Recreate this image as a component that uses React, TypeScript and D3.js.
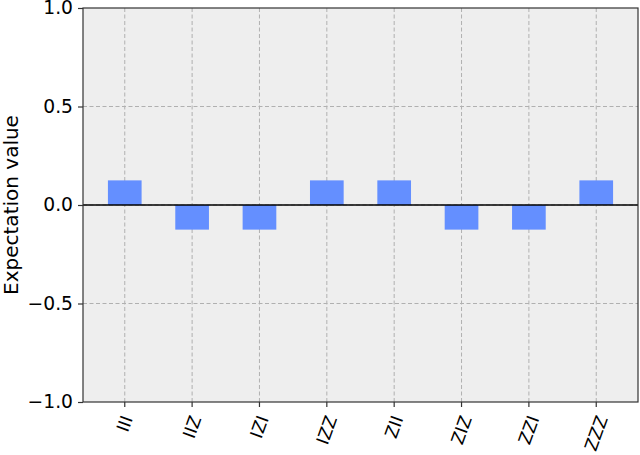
import { useEffect, useRef } from 'react';
import * as d3 from 'd3';

const labels = ['III', 'IIZ', 'IZI', 'IZZ', 'ZII', 'ZIZ', 'ZZI', 'ZZZ'];
const values = [0.125, -0.125, -0.125, 0.125, 0.125, -0.125, -0.125, 0.125];
const yTicks = [1, 0.5, 0, -0.5, -1];

const App = () => {
    const svgRef = useRef<SVGSVGElement>(null);
    const width = 640;
    const height = 455;
    const margins = { top: 8, right: 2, bottom: 53, left: 83 };
    const font = 'DejaVu Sans, sans-serif';

    useEffect(() => {
        const svg = d3.select(svgRef.current);
        svg.selectAll('*').remove();

        const x = d3.scalePoint<string>()
            .domain(labels)
            .range([margins.left, width - margins.right])
            .padding(0.62);
        const y = d3.scaleLinear()
            .domain([-1, 1])
            .range([height - margins.bottom, margins.top]);
        const barW = x.step() * 0.5;

        // plot background
        svg.append('rect')
            .attr('x', margins.left)
            .attr('y', margins.top)
            .attr('width', width - margins.left - margins.right)
            .attr('height', height - margins.top - margins.bottom)
            .attr('fill', '#eeeeee');

        // grid
        const grid = svg.append('g')
            .attr('stroke', '#b0b0b0')
            .attr('stroke-width', 1)
            .attr('stroke-dasharray', '4,2.5');
        grid.selectAll('.vg')
            .data(labels)
            .join('line')
            .attr('x1', d => x(d)!)
            .attr('x2', d => x(d)!)
            .attr('y1', margins.top)
            .attr('y2', height - margins.bottom);
        grid.selectAll('.hg')
            .data(yTicks.filter(t => t !== 1 && t !== -1))
            .join('line')
            .attr('x1', margins.left)
            .attr('x2', width - margins.right)
            .attr('y1', d => y(d))
            .attr('y2', d => y(d));

        // bars
        svg.append('g')
            .selectAll('rect')
            .data(values)
            .join('rect')
            .attr('x', (d, i) => x(labels[i])! - barW / 2)
            .attr('y', d => y(Math.max(0, d)))
            .attr('width', barW)
            .attr('height', d => Math.abs(y(d) - y(0)))
            .attr('fill', '#648fff');

        // zero line
        svg.append('line')
            .attr('x1', margins.left)
            .attr('x2', width - margins.right)
            .attr('y1', y(0))
            .attr('y2', y(0))
            .attr('stroke', '#000')
            .attr('stroke-width', 1.3);

        // frame
        svg.append('rect')
            .attr('x', margins.left)
            .attr('y', margins.top)
            .attr('width', width - margins.left - margins.right)
            .attr('height', height - margins.top - margins.bottom)
            .attr('fill', 'none')
            .attr('stroke', '#333')
            .attr('stroke-width', 1.2);

        // y axis
        const yAxis = svg.append('g')
            .attr('transform', 'translate(' + margins.left + ',0)')
            .call(d3.axisLeft(y).tickValues(yTicks).tickSize(5).tickPadding(5)
                .tickFormat(d => d3.format('.1f')(d as number).replace('-', '\u2212')));
        yAxis.select('.domain').remove();
        yAxis.selectAll('line').attr('stroke', '#333').attr('stroke-width', 1.2);
        yAxis.selectAll('text')
            .attr('font-family', font)
            .attr('font-size', 18.7)
            .attr('fill', '#000');

        // x ticks
        const bottom = height - margins.bottom;
        svg.append('g')
            .selectAll('line')
            .data(labels)
            .join('line')
            .attr('x1', d => x(d)!)
            .attr('x2', d => x(d)!)
            .attr('y1', bottom)
            .attr('y2', bottom + 5)
            .attr('stroke', '#333')
            .attr('stroke-width', 1.2);

        // rotated x labels, top of rotated box sits under the tick
        const ang = 70 * Math.PI / 180;
        const fs = 17.5;
        svg.append('g')
            .selectAll('text')
            .data(labels)
            .join('text')
            .text(d => d)
            .attr('font-family', font)
            .attr('font-size', fs)
            .attr('text-anchor', 'middle')
            .attr('dominant-baseline', 'central')
            .attr('transform', function (d) {
                const w = (this as SVGTextElement).getComputedTextLength();
                const h = fs * 0.8;
                const ext = w * Math.sin(ang) + h * Math.cos(ang);
                return 'translate(' + x(d) + ',' + (bottom + 12 + ext / 2) + ') rotate(-70)';
            });

        // y label
        svg.append('text')
            .text('Expectation value')
            .attr('font-family', font)
            .attr('font-size', 20)
            .attr('text-anchor', 'middle')
            .attr('dominant-baseline', 'central')
            .attr('transform', 'translate(11,' + y(0) + ') rotate(-90)');
    }, []);

    return (
        <div style={{ position: 'absolute', left: 0, top: 0 }}>
            <svg ref={svgRef} width={width} height={height} style={{ display: 'block' }}></svg>
        </div>
    );
};

export default App;
